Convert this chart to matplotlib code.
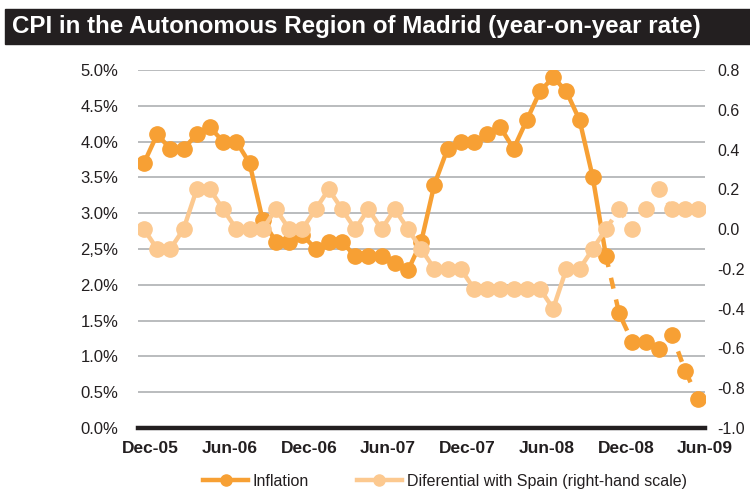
import numpy as np
import matplotlib.pyplot as plt
from matplotlib.lines import Line2D
from matplotlib.patches import Rectangle

# monthly data, Dec-05 .. Jun-09
inflation = [3.7, 4.1, 3.9, 3.9, 4.1, 4.2, 4.0, 4.0, 3.7, 2.9, 2.6, 2.6,
             2.7, 2.5, 2.6, 2.6, 2.4, 2.4, 2.4, 2.3, 2.2, 2.6, 3.4, 3.9,
             4.0, 4.0, 4.1, 4.2, 3.9, 4.3, 4.7, 4.9, 4.7, 4.3, 3.5, 2.4,
             1.6, 1.2, 1.2, 1.1, 1.3, 0.8, 0.4]
differential = [0.0, -0.1, -0.1, 0.0, 0.2, 0.2, 0.1, 0.0, 0.0, 0.0, 0.1, 0.0,
                0.0, 0.1, 0.2, 0.1, 0.0, 0.1, 0.0, 0.1, 0.0, -0.1, -0.2, -0.2,
                -0.2, -0.3, -0.3, -0.3, -0.3, -0.3, -0.3, -0.4, -0.2, -0.2, -0.1, 0.0,
                0.1, 0.0, 0.1, 0.2, 0.1, 0.1, 0.1]
x_labels = ["Dec-05", "Jun-06", "Dec-06", "Jun-07", "Dec-07", "Jun-08", "Dec-08", "Jun-09"]
left_ticks = [0.0, 0.5, 1.0, 1.5, 2.0, 2.5, 3.0, 3.5, 4.0, 4.5, 5.0]
left_labels = ["0.0%", "0.5%", "1.0%", "1.5%", "2.0%", "2,5%", "3.0%", "3.5%", "4.0%", "4.5%", "5.0%"]
right_ticks = [-1.0, -0.8, -0.6, -0.4, -0.2, 0.0, 0.2, 0.4, 0.6, 0.8]
dashed_from = 35  # Nov-08: figures from here on are dashed

c_infl = "#F7A034"
c_diff = "#FCC990"
c_dark = "#231F20"
c_grid = "#A7A9AC"

plt.rcParams['font.family'] = ['Liberation Sans', 'DejaVu Sans']

fig = plt.figure(figsize=(7.5, 4.9), dpi=100)

# title bar
fig.patches.append(Rectangle((5 / 750, 1 - 44 / 490), 745 / 750, 35 / 490,
                             transform=fig.transFigure, color=c_dark, zorder=0))
title = fig.text(12 / 750, 1 - 27 / 490, "CPI in the Autonomous Region of Madrid (year-on-year rate)",
                 fontweight='bold', fontsize=19, color='white', va='center', ha='left')
# shrink the title so it fits the bar like the original condensed face
renderer = fig.canvas.get_renderer()
w = title.get_window_extent(renderer).width
title.set_fontsize(19 * 690 / w)

ax = fig.add_axes([138 / 750, 1 - 428 / 490, 567 / 750, 358 / 490])
ax2 = ax.twinx()

x = np.arange(len(inflation))
lw = 3.2
ms = 11

ax.plot(x[:dashed_from + 1], inflation[:dashed_from + 1], color=c_infl, lw=lw, zorder=3)
ax.plot(x[dashed_from:], inflation[dashed_from:], color=c_infl, lw=lw, dashes=(2.5, 2.5), zorder=3)
ax.plot(x, inflation, ls='none', marker='o', ms=ms, color=c_infl, zorder=4)

ax2.plot(x[:dashed_from + 1], differential[:dashed_from + 1], color=c_diff, lw=lw, zorder=3)
ax2.plot(x[dashed_from:], differential[dashed_from:], color=c_diff, lw=lw, dashes=(2.5, 2.5), zorder=3)
ax2.plot(x, differential, ls='none', marker='o', ms=ms, color=c_diff, zorder=4)

ax.set_xlim(-0.45, 42.5)
ax.set_ylim(0, 5.0)
ax2.set_ylim(-1.0, 0.8)

for s in ['top', 'left', 'right']:
    ax.spines[s].set_visible(False)
    ax2.spines[s].set_visible(False)
ax2.spines['bottom'].set_visible(False)
ax.spines['bottom'].set_color(c_dark)
ax.spines['bottom'].set_linewidth(3.2)
ax.spines['bottom'].set_zorder(5)

ax.set_yticks(left_ticks)
ax.set_yticklabels(left_labels)
for t in left_ticks[1:]:
    ax.axhline(t, color=c_grid, lw=1.1, zorder=1)
ax.tick_params(axis='y', length=0, pad=14, labelsize=12, labelcolor=c_dark)

ax2.set_yticks(right_ticks)
ax2.set_yticklabels([f"{v:.1f}" for v in right_ticks])
ax2.tick_params(axis='y', length=0, pad=9, labelsize=11.5, labelcolor=c_dark)

ax.set_xticks(np.arange(0.5, 43, 6))
ax.set_xticklabels(x_labels, fontweight='bold', fontsize=12.5, color=c_dark)
ax.tick_params(axis='x', length=0, pad=9)

handles = [Line2D([], [], color=c_infl, lw=lw, marker='o', ms=8),
           Line2D([], [], color=c_diff, lw=lw, marker='o', ms=8)]
fig.legend(handles, ["Inflation", "Diferential with Spain (right-hand scale)"],
           loc='center', bbox_to_anchor=(445 / 750, 1 - 481 / 490), ncol=2, frameon=False,
           fontsize=11.5, handlelength=2.8, handletextpad=0.3, columnspacing=3.0,
           labelcolor=c_dark)

fig.savefig("out.png", dpi=100)
